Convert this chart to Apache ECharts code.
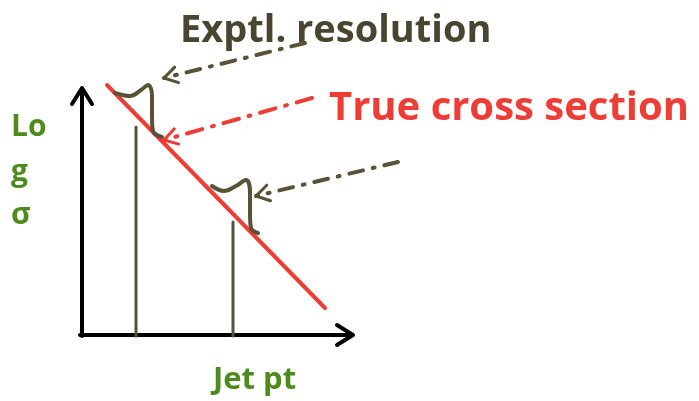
<!DOCTYPE html>
<html>
<head>
<meta charset="utf-8">
<script src="https://cdn.jsdelivr.net/npm/echarts@6/dist/echarts.min.js"></script>
<style>
  html, body { margin: 0; padding: 0; background: #fff; }
  #chart { width: 699px; height: 401px; }
</style>
</head>
<body>
<div id="chart"></div>
<script>
// diagram space: x to the right, y downwards (same extent as the picture)
var axisYLine = [[82, 336], [82, 90]];
var axisXLine = [[80, 335], [351, 335]];
var trueLine = [[107, 85], [325, 308]];
var bar1 = [[136, 336], [136, 127]];
var bar2 = [[233, 336], [233, 222]];
var resol1 = [[115, 93], [130, 96], [141, 90], [148, 85], [152, 95], [152, 118], [153, 131], [162, 137]];
var resol2 = [[212, 186], [224, 191], [236, 186], [246, 180], [250, 192], [250, 214], [251, 228], [258, 233]];
var arrowExptl = [[305, 43], [164, 78]];
var arrowTrue = [[312, 98], [164, 140]];
var arrowResol = [[398, 162], [256, 196]];
var titleTop = ['Exptl. resolution', 180, 31];
var titleTrue = ['True cross section', 329, 109];
var yLabels = [['Lo', 11, 127], ['g', 11, 172], ['σ', 11, 215]];
var xLabel = ['Jet pt', 213, 380];

var OLIVE = '#5a5236';
var RED = '#ee3d35';
var GREEN = '#4d8b1d';

// open chevron arrowhead at the end of a segment
function head(seg, len, spread) {
  var a = seg[0], b = seg[1];
  var dx = b[0] - a[0], dy = b[1] - a[1];
  var d = Math.sqrt(dx * dx + dy * dy);
  var ux = dx / d, uy = dy / d;
  var px = -uy, py = ux;
  return [
    [b[0] - ux * len + px * spread, b[1] - uy * len + py * spread],
    [b[0], b[1]],
    [b[0] - ux * len - px * spread, b[1] - uy * len - py * spread]
  ];
}

function line(data, color, width, extra) {
  var s = {
    type: 'line',
    data: data,
    symbol: 'none',
    silent: true,
    animation: false,
    lineStyle: { color: color, width: width, cap: 'round', join: 'round' }
  };
  for (var k in extra) s[k] = extra[k];
  if (extra && extra.dash) s.lineStyle.type = extra.dash;
  return s;
}

function text(item, color, size) {
  return {
    type: 'scatter',
    data: [[item[1], item[2]]],
    symbolSize: 0,
    silent: true,
    animation: false,
    itemStyle: { opacity: 1 },
    label: {
      show: true,
      position: 'right',
      distance: 0,
      opacity: 1,
      formatter: item[0],
      color: color,
      fontSize: size,
      fontWeight: 'bold',
      fontFamily: '"Open Sans", Lato, sans-serif'
    }
  };
}

var chart = echarts.init(document.getElementById('chart'));
var series = [
  line(axisYLine, '#000', 4),
  line(head([[82, 200], [82, 88]], 16, 10), '#000', 4),
  line(axisXLine, '#000', 4),
  line(head([[200, 335], [353, 335]], 16, 10), '#000', 4),
  line(bar1, OLIVE, 3),
  line(bar2, OLIVE, 3),
  line(trueLine, RED, 4),
  line(resol1, OLIVE, 4, { smooth: 0.4 }),
  line(resol2, OLIVE, 4, { smooth: 0.4 }),
  line(arrowExptl, OLIVE, 4, { dash: [14, 10, 2, 10] }),
  line(head(arrowExptl, 13, 8), OLIVE, 3),
  line(arrowTrue, RED, 4, { dash: [16, 10, 2, 10] }),
  line(head(arrowTrue, 13, 8), RED, 3),
  line(arrowResol, OLIVE, 4, { dash: [14, 10, 2, 10] }),
  line(head(arrowResol, 13, 8), OLIVE, 3),
  text(titleTop, '#4a4530', 38),
  text(titleTrue, RED, 40),
  text(xLabel, GREEN, 31)
];
yLabels.forEach(function (l) { series.push(text(l, GREEN, 30)); });

chart.setOption({
  backgroundColor: '#fff',
  grid: { left: 0, right: 0, top: 0, bottom: 0 },
  xAxis: { type: 'value', min: 0, max: 699, show: false },
  yAxis: { type: 'value', min: 0, max: 401, inverse: true, show: false },
  series: series
});
</script>
</body>
</html>
